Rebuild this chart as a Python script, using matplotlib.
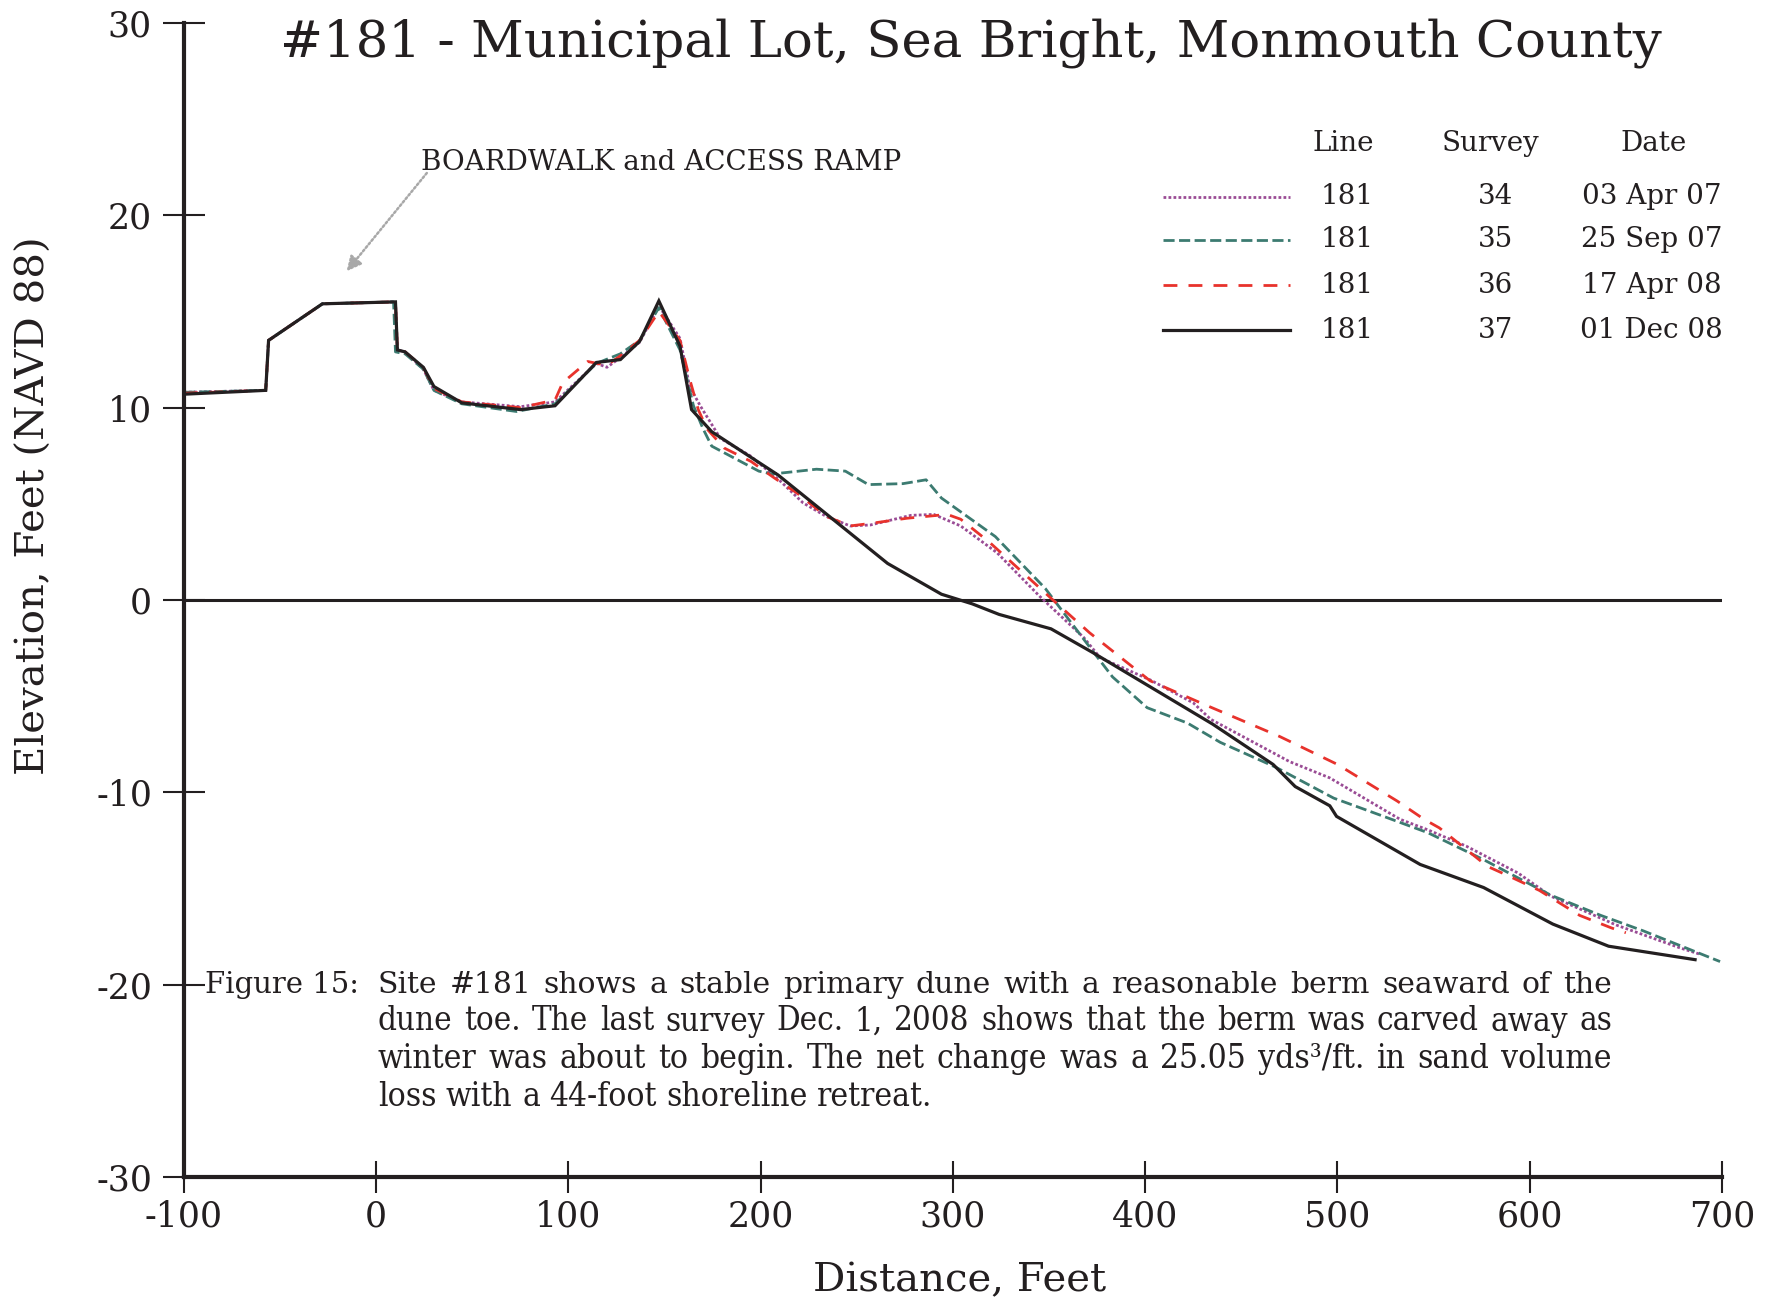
import matplotlib
matplotlib.use("Agg")
import matplotlib.pyplot as plt
from matplotlib.lines import Line2D
from matplotlib import font_manager as fm

# ---------------- data ----------------
x34 = [-100, -57.5, -56, -28, 10, 11, 15, 24.5, 30, 44.5, 75, 93, 114.5, 120, 127, 137, 147, 158, 163, 168.5,
       179, 194.5, 210, 222, 234, 246.5, 257, 278, 290, 304, 323, 345, 368, 376.5, 402.5, 425, 434, 475, 496,
       532.5, 547, 567, 594, 611, 645, 678.5, 688]
y34 = [10.8, 10.9, 13.5, 15.4, 15.5, 13.0, 12.9, 12.0, 10.9, 10.3, 10.05, 10.3, 12.3, 12.1, 12.6, 13.4, 15.3, 13.6,
       11.1, 10.1, 8.4, 7.5, 6.2, 5.05, 4.35, 3.85, 3.9, 4.4, 4.45, 3.85, 2.45, 0.2, -1.95, -3.0, -4.15, -5.35,
       -6.2, -8.4, -9.25, -11.4, -11.95, -12.8, -14.2, -15.4, -16.9, -18.1, -18.4]

x35 = [-100, -57.5, -56, -28, 9, 10, 15, 24.5, 30, 44.5, 73, 93, 114.5, 127, 137, 147, 158, 165, 170, 174.5,
       199, 206, 229, 244, 256, 274, 286, 294, 322, 348, 373, 383, 401, 422, 439, 468, 498, 524, 547, 576,
       611, 637, 659, 699]
y35 = [10.8, 10.9, 13.5, 15.4, 15.5, 12.9, 12.8, 12.0, 10.9, 10.2, 9.8, 10.2, 12.3, 12.8, 13.5, 15.2, 13.0, 10.1,
       8.9, 8.0, 6.7, 6.55, 6.8, 6.7, 6.0, 6.05, 6.25, 5.3, 3.3, 0.6, -2.7, -4.0, -5.6, -6.4, -7.4, -8.7,
       -10.3, -11.25, -12.1, -13.5, -15.35, -16.4, -17.2, -18.8]

x36 = [-100, -57.5, -56, -28, 10, 11, 15, 24.5, 30, 44.5, 75, 93, 97, 110, 120, 127, 137, 147, 158, 163, 167.5,
       172, 181, 195, 207, 219, 234, 246.5, 258.5, 276, 297, 304, 319, 352, 371, 402.5, 430, 470, 500, 531,
       545, 553, 578, 588, 605, 626, 642.5, 650]
y36 = [10.75, 10.9, 13.5, 15.4, 15.5, 13.0, 12.9, 12.1, 11.0, 10.3, 10.0, 10.4, 11.3, 12.4, 12.2, 12.7, 13.5, 15.0,
       13.5, 11.5, 9.9, 8.9, 7.9, 7.2, 6.35, 5.55, 4.35, 3.85, 4.0, 4.25, 4.45, 4.2, 3.0, 0.0, -1.7, -4.2, -5.4,
       -7.1, -8.55, -10.45, -11.4, -11.85, -13.85, -14.3, -15.1, -16.4, -17.05, -17.3]

x37 = [-100, -57.5, -56, -28, 10, 11, 15, 24.5, 30, 44.5, 75, 93, 114.5, 127, 137, 147, 158, 164, 174.5, 209,
       266, 294, 310, 324, 351, 373, 435, 466.5, 478, 496, 499.5, 543, 576, 612, 641, 686]
y37 = [10.7, 10.9, 13.5, 15.4, 15.5, 13.0, 12.9, 12.1, 11.1, 10.25, 9.9, 10.1, 12.35, 12.5, 13.45, 15.55, 13.2,
       9.9, 8.75, 6.5, 1.9, 0.3, -0.2, -0.75, -1.5, -2.75, -6.45, -8.55, -9.7, -10.7, -11.25, -13.75, -14.95,
       -16.85, -18.0, -18.7]

lines_id = ["181", "181", "181", "181"]
surveys = ["34", "35", "36", "37"]
dates = ["03 Apr 07", "25 Sep 07", "17 Apr 08", "01 Dec 08"]

xticks = [-100, 0, 100, 200, 300, 400, 500, 600, 700]
yticks = [-30, -20, -10, 0, 10, 20, 30]

title = "#181 - Municipal Lot, Sea Bright, Monmouth County"
caption_head = "Figure 15:"
caption_lines = [
    "Site #181 shows a stable primary dune with a reasonable berm seaward of the",
    "dune toe.  The last survey Dec. 1, 2008 shows that the berm was carved away as",
    "winter was about to begin.  The net change was a 25.05 yds\u00b3/ft. in sand volume",
    "loss with a 44-foot shoreline retreat.",
]

# ---------------- styles ----------------
SERIF = "DejaVu Serif"
INK = "#231f20"
styles = [
    dict(color="#9a4c95", lw=2.0, dashes=(1.0, 0.8)),
    dict(color="#3c7b71", lw=2.0, dashes=(4.0, 1.6)),
    dict(color="#e8322c", lw=2.0, dashes=(5.0, 4.0)),
    dict(color=INK, lw=2.3, linestyle="-"),
]

# narrow face for the caption body
has_cond = any(("DejaVu Serif" in f.name) and ("Condensed" in f.fname)
               for f in fm.fontManager.ttflist)
if has_cond:
    CAP_FONT = dict(family="DejaVu Serif", fontstretch="condensed")
    cap_fs = 24
else:
    CAP_FONT = dict(family="Liberation Serif")
    cap_fs = 25

W, H = 1774, 1301
fig = plt.figure(figsize=(W / 100, H / 100), dpi=100)
ax = fig.add_axes([184 / W, 1 - 1177 / H, 1538 / W, 1154 / H])

series = [(x34, y34), (x35, y35), (x36, y36), (x37, y37)]
for (xs, ys), st in zip(series, styles):
    ax.plot(xs, ys, solid_joinstyle="miter", **st)

ax.axhline(0, color=INK, lw=2.2, zorder=1)

ax.set_xlim(-100, 700)
ax.set_ylim(-30, 30)
ax.set_xticks(xticks)
ax.set_yticks(yticks)
ax.set_xticklabels([str(v) for v in xticks], family=SERIF, fontsize=25, color=INK)
ax.set_yticklabels([str(v) for v in yticks], family=SERIF, fontsize=25, color=INK)
for s in ["top", "right"]:
    ax.spines[s].set_visible(False)
for s in ["left", "bottom"]:
    ax.spines[s].set_linewidth(3.0)
    ax.spines[s].set_color(INK)
ax.tick_params(axis="x", direction="inout", length=23, width=1.5, pad=5, colors=INK)
ax.tick_params(axis="y", direction="inout", length=30, width=1.5, pad=8, colors=INK)

ax.set_xlabel("Distance, Feet", family=SERIF, fontsize=29, color=INK)
ax.xaxis.set_label_coords(0.504, -0.090)
ax.xaxis.label.set_va("center")
ax.set_ylabel("Elevation, Feet (NAVD 88)", family=SERIF, fontsize=29, color=INK)
ax.yaxis.set_label_coords(-0.0975, 0.5815)
ax.yaxis.label.set_va("center")

ax.text(0.5117, 0.9827, title, transform=ax.transAxes, ha="center", va="center",
        family=SERIF, fontsize=37, color=INK)

# annotation
ax.text(23.3, 22.34, "BOARDWALK and ACCESS RAMP", ha="left", va="baseline",
        family=SERIF, fontsize=20, color=INK)
ax.annotate("", xy=(-15.4, 17.09), xytext=(26.3, 22.2),
            arrowprops=dict(arrowstyle="-|>", color="#a8a8a8", lw=1.8, linestyle=(0, (0.8, 1.0)),
                            mutation_scale=22, shrinkA=0, shrinkB=0))

# legend table
hdr_y = 0.8954
row_y = [0.8493, 0.8121, 0.7729, 0.7336]
for txt, xx in [("Line", 0.7536), ("Survey", 0.8498), ("Date", 0.9558)]:
    ax.text(xx, hdr_y, txt, transform=ax.transAxes, ha="center", va="center",
            family=SERIF, fontsize=20, color=INK)
for i, st in enumerate(styles):
    ln = Line2D([0.6366, 0.7190], [row_y[i], row_y[i]], transform=ax.transAxes, **st)
    ln.set_clip_on(False)
    ax.add_line(ln)
    ax.text(0.7565, row_y[i], lines_id[i], transform=ax.transAxes, ha="center", va="center",
            family=SERIF, fontsize=20, color=INK)
    ax.text(0.8529, row_y[i], surveys[i], transform=ax.transAxes, ha="center", va="center",
            family=SERIF, fontsize=20, color=INK)
    ax.text(0.9544, row_y[i], dates[i], transform=ax.transAxes, ha="center", va="center",
            family=SERIF, fontsize=20, color=INK)

# caption (justified)
fig.text(205 / W, 1 - 993 / H, caption_head, ha="left", va="baseline",
         family=SERIF, fontsize=21, color=INK)
renderer = fig.canvas.get_renderer()
x0, x1 = 378.0, 1612.0
base = [993, 1030.5, 1068, 1105.5]


def measure(s, fs, font):
    t = fig.text(0, 0, s, fontsize=fs, **font)
    w = t.get_window_extent(renderer).width
    t.remove()
    return w


for i, line in enumerate(caption_lines):
    words = line.split()
    if i == 0:
        font, fs = dict(family=SERIF), 23.0
    else:
        font, fs = CAP_FONT, float(cap_fs)
    for _ in range(4):
        space = measure("a a", fs, font) - measure("aa", fs, font)
        widths = [measure(w, fs, font) for w in words]
        natural = sum(widths) + space * (len(words) - 1)
        if natural <= (x1 - x0) * 0.985:
            break
        fs *= (x1 - x0) * 0.975 / natural
    if i < len(caption_lines) - 1:
        gap = (x1 - x0 - sum(widths)) / (len(words) - 1)
    else:
        gap = space
    xx = x0
    for w, wd in zip(words, widths):
        fig.text(xx / W, 1 - base[i] / H, w, ha="left", va="baseline",
                 fontsize=fs, color=INK, **font)
        xx += wd + gap

fig.savefig("out.png", dpi=100)
